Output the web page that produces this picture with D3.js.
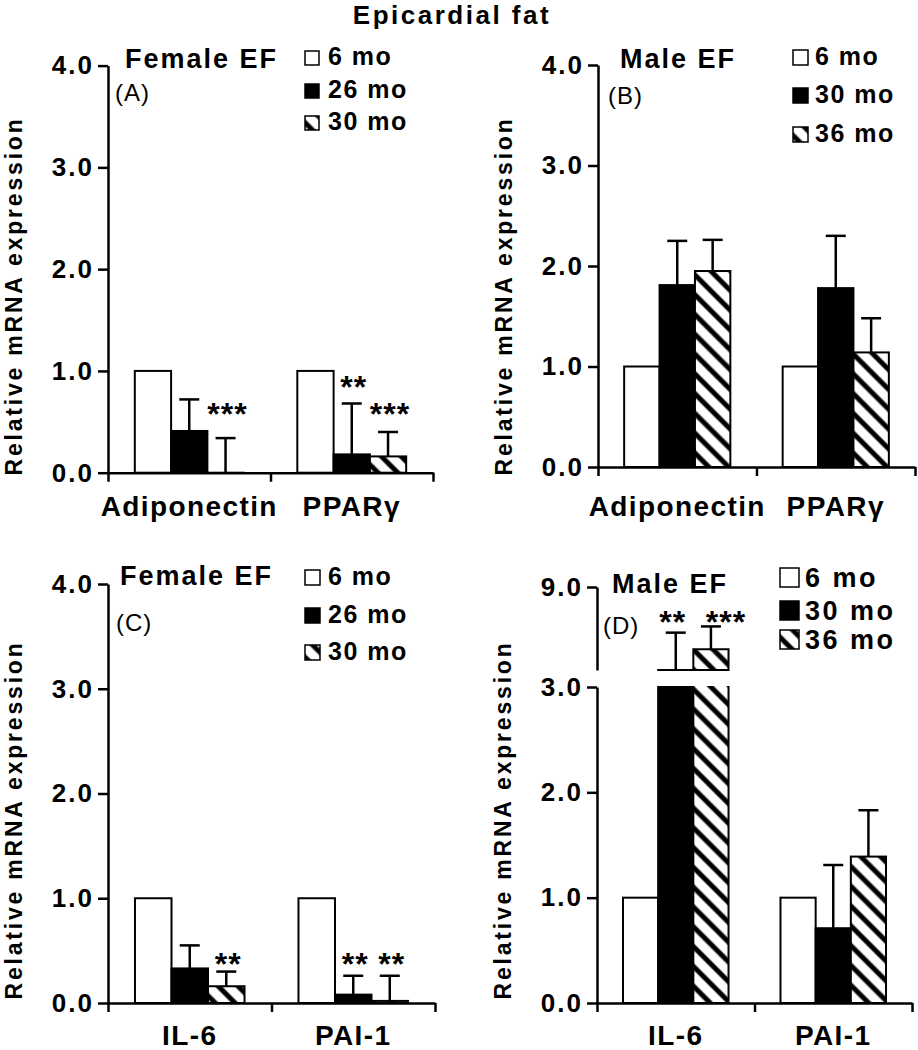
<!DOCTYPE html>
<html lang="en">
<head>
<meta charset="UTF-8">
<title>Epicardial fat</title>
<script src="https://cdn.jsdelivr.net/npm/d3@7"></script>
<style>
  body { margin: 0; background: #fff; }
  svg text { font-family: "Liberation Sans", Arial, sans-serif; fill: #000; }
</style>
</head>
<body>
<svg id="chart" width="918" height="1050"></svg>
<script>
// ---- data ----
const topGenes = ["Adiponectin", "PPARγ"];
const bottomGenes = ["IL-6", "PAI-1"];
const femaleAges = ["6 mo", "26 mo", "30 mo"];
const maleAges = ["6 mo", "30 mo", "36 mo"];

// mean per gene (rows) and age (cols); err = top of the SD whisker
const meanA = [[1.0, 0.41, 0.0], [1.0, 0.18, 0.16]];
const errA = [[null, 0.72, 0.34], [null, 0.68, 0.40]];
const starA = [["", "", "***"], ["", "**", "***"]];
const starLvlA = [[0, 0, 0.65], [0, 0.91, 0.65]];

const meanB = [[1.0, 1.81, 1.95], [1.0, 1.78, 1.14]];
const errB = [[null, 2.25, 2.26], [null, 2.30, 1.48]];

const meanC = [[1.0, 0.33, 0.16], [1.0, 0.08, 0.02]];
const errC = [[null, 0.55, 0.30], [null, 0.26, 0.26]];
const starC = [["", "", "**"], ["", "**", "**"]];
const starLvlC = [[0, 0, 0.44], [0, 0.44, 0.44]];

const meanD = [[1.0, 5.0, 6.0], [1.0, 0.71, 1.39]];
const errD = [[null, 6.8, 7.1], [null, 1.31, 1.83]];
const starD = [["", "**", "***"], ["", "", ""]];
const starLvlD = [[0, 7.65, 7.65], [0, 0, 0]];

const ticksFour = [0, 1, 2, 3, 4];
const ticksLowD = [0, 1, 2, 3];
const ticksHighD = [9];

const svg = d3.select("#chart");
const defs = svg.append("defs");

// diagonal hatch "\\\"
const hatch = defs.append("pattern")
  .attr("id", "hatch")
  .attr("patternUnits", "userSpaceOnUse")
  .attr("width", 14).attr("height", 14)
  .attr("patternTransform", "rotate(-45)");
hatch.append("rect").attr("width", 14).attr("height", 14).attr("fill", "#fff");
hatch.append("line").attr("x1", 3).attr("x2", 3).attr("y1", 0).attr("y2", 14)
  .attr("stroke", "#000").attr("stroke-width", 5);

const fills = ["#fff", "#000", "url(#hatch)"];

svg.append("text")
  .attr("x", 452).attr("y", 24)
  .attr("text-anchor", "middle")
  .style("font-size", "26px").style("font-weight", "bold").style("letter-spacing", "2.5px")
  .text("Epicardial fat");

function drawPanel(o) {
  const g = svg.append("g");
  const x = d3.scaleBand().domain(o.genes).range([o.left, o.right]);
  const bw = x.bandwidth();

  // segments: normal panels have one, D has a broken axis with two
  o.segments.forEach((s, si) => {
    const y = d3.scaleLinear().domain(s.domain).range(s.range);
    const clipId = "clip" + o.id + si;
    defs.append("clipPath").attr("id", clipId).append("rect")
      .attr("x", o.left).attr("width", o.right - o.left)
      .attr("y", s.range[1] - 1).attr("height", s.range[0] - s.range[1] + 3);

    const bars = g.append("g").attr("clip-path", "url(#" + clipId + ")");
    o.mean.forEach((row, gi) => {
      const inner = d3.scaleBand().domain(d3.range(row.length))
        .range([x(o.genes[gi]) + bw * 0.165, x(o.genes[gi]) + bw * 0.835]);
      const shown = row.map((v, i) => ({ v, i })).filter(d => d.v >= s.domain[0]);
      bars.selectAll(null).data(shown).join("rect")
        .attr("x", d => inner(d.i))
        .attr("width", inner.bandwidth())
        .attr("y", d => y(d.v))
        .attr("height", d => Math.max(0.01, y(s.domain[0]) - y(d.v)))
        .attr("fill", d => fills[d.i])
        .attr("stroke", "#000").attr("stroke-width", 2);

      const errs = o.err[gi].map((e, i) => ({ e, m: row[i], i }))
        .filter(d => d.e !== null && d.m >= s.domain[0] && d.m < s.domain[1]);
      const eg = g.append("g").attr("stroke", "#000").attr("stroke-width", 2.5);
      errs.forEach(d => {
        const cx = inner(d.i) + inner.bandwidth() / 2;
        const yTop = y(Math.min(d.e, s.domain[1]));
        eg.append("line").attr("x1", cx).attr("x2", cx)
          .attr("y1", y(d.m)).attr("y2", yTop);
        eg.append("line").attr("x1", cx - 10).attr("x2", cx + 10)
          .attr("y1", yTop).attr("y2", yTop);
      });

      if (o.stars) {
        o.stars[gi].forEach((st, i) => {
          const lvl = o.starLvl[gi][i];
          if (!st || lvl < s.domain[0] || lvl > s.domain[1]) return;
          const dx = o.starDx ? o.starDx[gi][i] : 2;
          g.append("text")
            .attr("x", inner(i) + inner.bandwidth() / 2 + dx)
            .attr("y", y(lvl) + 18)
            .attr("text-anchor", "middle")
            .style("font-size", "32px").style("font-weight", "bold").style("letter-spacing", "1px")
            .text(st);
        });
      }
    });

    const ax = g.append("g")
      .attr("transform", `translate(${o.left},0)`)
      .call(d3.axisLeft(y).tickValues(s.ticks).tickFormat(d3.format(".1f"))
        .tickSize(10).tickSizeOuter(0).tickPadding(4));
    ax.selectAll("path, line").attr("stroke", "#000").attr("stroke-width", 2.5);
    ax.selectAll("text")
      .style("font-size", "26px").style("font-weight", "bold").style("letter-spacing", "2px")
      .style("font-family", "'Liberation Sans', Arial, sans-serif");
  });

  // x axis
  const y0 = o.segments[0].range[0];
  const xl = d3.scaleLinear().domain([0, o.genes.length]).range([o.left, o.right]);
  const xa = g.append("g")
    .attr("transform", `translate(0,${y0})`)
    .call(d3.axisBottom(xl).tickValues(d3.range(o.genes.length + 1)).tickFormat("")
      .tickSize(9).tickSizeOuter(0));
  xa.selectAll("path, line").attr("stroke", "#000").attr("stroke-width", 2.5);

  g.selectAll(null).data(o.genes).join("text")
    .attr("x", d => x(d) + bw / 2)
    .attr("y", o.catY)
    .attr("text-anchor", "middle")
    .style("font-size", "28px").style("font-weight", "bold").style("letter-spacing", "1.4px")
    .text(d => d);

  // y label
  g.append("text")
    .attr("transform", `translate(${o.left - 86.5},${o.labelY}) rotate(-90)`)
    .attr("text-anchor", "middle")
    .style("font-size", "23px").style("font-weight", "bold").style("letter-spacing", "2.8px")
    .text("Relative mRNA expression");

  // heading and panel tag
  g.append("text").attr("x", o.title[0]).attr("y", o.title[1])
    .style("font-size", "27px").style("font-weight", "bold").style("letter-spacing", "2px")
    .text(o.titleText);
  g.append("text").attr("x", o.tag[0]).attr("y", o.tag[1])
    .style("font-size", "24px").style("letter-spacing", "1px")
    .text(o.tagText);

  // legend
  const lg = g.append("g");
  o.ages.forEach((a, i) => {
    const by = o.legend.rows[i];
    lg.append("rect")
      .attr("x", o.legend.x).attr("y", by - o.legend.size)
      .attr("width", o.legend.size).attr("height", o.legend.size)
      .attr("fill", fills[i]).attr("stroke", "#000").attr("stroke-width", 1.5);
    lg.append("text")
      .attr("x", o.legend.tx).attr("y", by)
      .style("font-size", o.legend.font + "px").style("font-weight", "bold")
      .style("letter-spacing", o.legend.ls + "px")
      .text(a);
  });
}

drawPanel({
  id: "A", genes: topGenes, ages: femaleAges, mean: meanA, err: errA, stars: starA, starLvl: starLvlA,
  left: 108, right: 433,
  segments: [{ domain: [0, 4], range: [472.7, 65.6], ticks: ticksFour }],
  catY: 516, labelY: 296,
  titleText: "Female EF", title: [125, 68], tagText: "(A)", tag: [115, 101],
  legend: { x: 305, tx: 328, size: 14, font: 25, ls: 1.5, rows: [65, 98, 130] }
});

drawPanel({
  id: "B", genes: topGenes, ages: maleAges, mean: meanB, err: errB,
  left: 598, right: 915,
  segments: [{ domain: [0, 4], range: [467, 65], ticks: ticksFour }],
  catY: 516, labelY: 296,
  titleText: "Male EF", title: [620, 68], tagText: "(B)", tag: [608, 104],
  legend: { x: 793, tx: 815, size: 15, font: 25, ls: 1.5, rows: [65, 103, 142] }
});

drawPanel({
  id: "C", genes: bottomGenes, ages: femaleAges, mean: meanC, err: errC, stars: starC, starLvl: starLvlC,
  left: 108, right: 435,
  segments: [{ domain: [0, 4], range: [1003, 584], ticks: ticksFour }],
  catY: 1045, labelY: 820,
  titleText: "Female EF", title: [120, 585], tagText: "(C)", tag: [116, 631],
  legend: { x: 305, tx: 328, size: 15, font: 25, ls: 1.5, rows: [585, 623, 660] }
});

drawPanel({
  id: "D", genes: bottomGenes, ages: maleAges, mean: meanD, err: errD, stars: starD, starLvl: starLvlD,
  starDx: [[0, -3, 15], [0, 0, 0]],
  left: 597, right: 912,
  segments: [
    { domain: [0, 3], range: [1003, 687], ticks: ticksLowD },
    { domain: [5, 9], range: [670, 587], ticks: ticksHighD }
  ],
  catY: 1045, labelY: 820,
  titleText: "Male EF", title: [612, 593], tagText: "(D)", tag: [603, 634],
  legend: { x: 780, tx: 805, size: 19, font: 27, ls: 2.5, rows: [587, 620, 649] }
});
</script>
</body>
</html>
